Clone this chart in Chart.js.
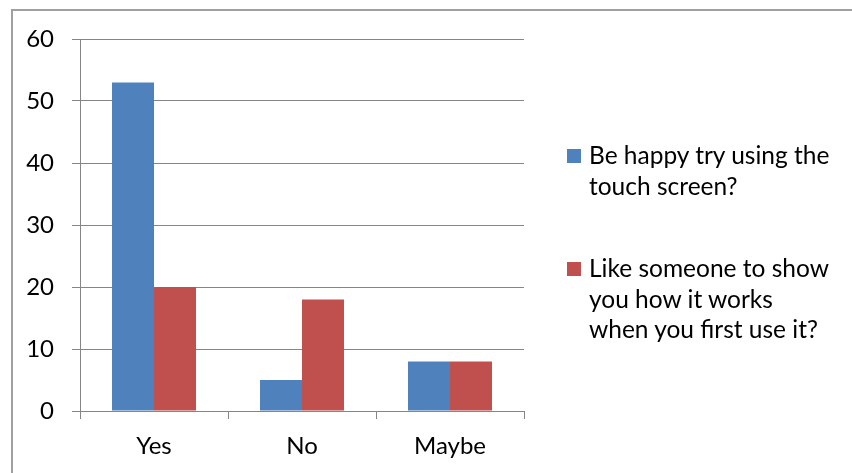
<!DOCTYPE html>
<html>
<head>
<meta charset="utf-8">
<script src="https://cdn.jsdelivr.net/npm/chart.js@4/dist/chart.umd.min.js"></script>
<style>
  html, body { margin: 0; padding: 0; background: #fff; overflow: hidden; }
  #wrap { position: relative; width: 852px; height: 473px; overflow: hidden; }
  #frame { position: absolute; left: 11px; top: 9px; width: 841px; height: 464px; border-left: 2px solid #a0a0a0; border-top: 2px solid #a0a0a0; box-sizing: border-box; }
  canvas { position: absolute; left: 0; top: 0; }
  .leg { position: absolute; left: 567px; font-family: Lato, sans-serif; font-size: 24.5px; line-height: 30.5px; color: #000; }
  .leg .sw { position: absolute; left: 0; width: 14px; height: 14px; }
  .leg .tx { position: absolute; left: 22px; white-space: nowrap; }
</style>
</head>
<body>
<div id="wrap">
  <div id="frame"></div>
  <canvas id="c" width="852" height="473"></canvas>
  <div id="legend"></div>
</div>
<script>
const categories = ["Yes", "No", "Maybe"];
const seriesNames = [
  ["Be happy try using the", "touch screen?"],
  ["Like someone to show", "you how it works", "when you first use it?"]
];
const happyValues = [53, 5, 8];
const showValues = [20, 18, 8];
const seriesColors = ["#4F81BD", "#C0504D"];
const yTicks = [0, 10, 20, 30, 40, 50, 60];

const axisColor = "#868686";
const font = { family: "Lato, sans-serif", size: 24 };

new Chart(document.getElementById("c"), {
  type: "bar",
  data: {
    labels: categories,
    datasets: [
      { label: seriesNames[0].join(" "), data: happyValues, backgroundColor: seriesColors[0], borderWidth: 0 },
      { label: seriesNames[1].join(" "), data: showValues, backgroundColor: seriesColors[1], borderWidth: 0 }
    ]
  },
  options: {
    responsive: false,
    devicePixelRatio: 1,
    animation: false,
    layout: { padding: { left: 0, right: 328, top: 39, bottom: 0 } },
    plugins: { legend: { display: false }, tooltip: { enabled: false }, title: { display: false } },
    datasets: { bar: { categoryPercentage: 0.5676, barPercentage: 1.0 } },
    scales: {
      x: {
        afterFit: (s) => { s.height = 62; },
        grid: { offset: true, drawOnChartArea: false, drawTicks: true, tickLength: 8, color: axisColor, lineWidth: 1 },
        border: { display: true, color: axisColor, width: 1 },
        ticks: { color: "#000", font: font, padding: 13, maxRotation: 0 }
      },
      y: {
        min: yTicks[0],
        max: yTicks[yTicks.length - 1],
        afterFit: (s) => { s.width = 80; },
        afterBuildTicks: (s) => { s.ticks = yTicks.map(v => ({ value: v })); },
        grid: { color: axisColor, lineWidth: 1, drawTicks: true, tickLength: 8 },
        border: { display: true, color: axisColor, width: 1 },
        ticks: { color: "#000", font: font, padding: 18 }
      }
    }
  }
});

// HTML legend built from series names/colors
const legend = document.getElementById("legend");
const legendTops = [140, 253];
seriesNames.forEach((lines, i) => {
  const d = document.createElement("div");
  d.className = "leg";
  d.style.top = legendTops[i] + "px";
  const sw = document.createElement("div");
  sw.className = "sw";
  sw.style.background = seriesColors[i];
  sw.style.top = "9px";
  const tx = document.createElement("div");
  tx.className = "tx";
  tx.innerHTML = lines.join("<br>");
  d.appendChild(sw);
  d.appendChild(tx);
  legend.appendChild(d);
});
</script>
</body>
</html>
